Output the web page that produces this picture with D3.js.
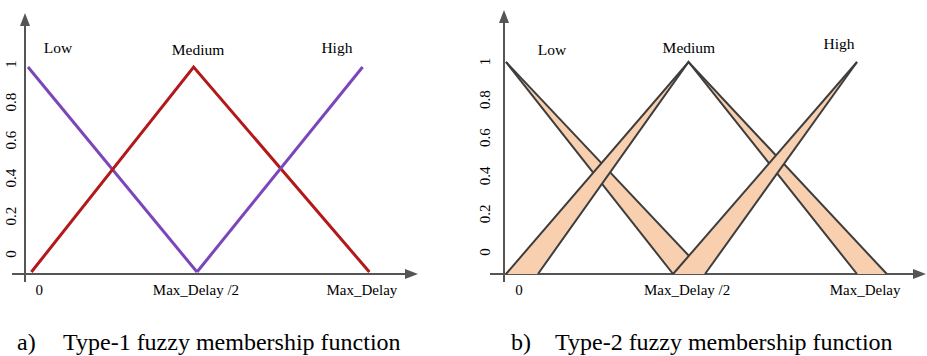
<!DOCTYPE html>
<html>
<head>
<meta charset="utf-8">
<title>Fuzzy membership functions</title>
<script src="https://d3js.org/d3.v7.min.js"></script>
<style>
body { margin: 0; background: #fff; }
svg text { font-family: "Liberation Serif", "Times New Roman", serif; fill: #000; }
</style>
</head>
<body>
<div id="my_dataviz"></div>
<script>
// tick labels and set names
var yTicks = [0, 0.2, 0.4, 0.6, 0.8, 1];
var xTickNames = ["0", "Max_Delay /2", "Max_Delay"];
var setNames = ["Low", "Medium", "High"];
var captions = [["a)", "Type-1 fuzzy membership function"], ["b)", "Type-2 fuzzy membership function"]];

// a) type-1 sets: [x as fraction of Max_Delay, membership]
var low1 = [[0, 1], [0.5, 0]];
var medium1 = [[0.01, 0], [0.49, 1], [1.01, 0]];
var high1 = [[0.5, 0], [0.99, 1]];

// b) type-2 sets: upper and lower membership functions
var lowUpper2 = [[0, 1], [0.57, 0]];
var lowLower2 = [[0, 1], [0.476, 0]];
var mediumUpper2 = [[0, 0], [0.52, 1], [1.085, 0]];
var mediumLower2 = [[0.091, 0], [0.52, 1], [1, 0]];
var highUpper2 = [[0.476, 0], [1, 1]];
var highLower2 = [[0.567, 0], [1, 1]];

// where the words sit, in the same units
var xTickAt1 = [0.033, 0.497, 0.988];
var xTickAt2 = [0.037, 0.516, 1.023];
var setLabelAt1 = [[0.089, 1.093], [0.503, 1.083], [0.914, 1.093]];
var setLabelAt2 = [[0.131, 1.057], [0.521, 1.066], [0.949, 1.085]];

var width = 927, height = 356;

var svg = d3.select("#my_dataviz")
  .append("svg")
    .attr("width", width)
    .attr("height", height);

var axisColor = "#555";

function drawPanel(p) {
  var x = d3.scaleLinear().domain([0, 1]).range(p.xRange);
  var y = d3.scaleLinear().domain([0, 1]).range(p.yRange);
  // the printed tick numbers do not sit exactly on the data scale
  var yLab = d3.scaleLinear().domain([0, 1]).range(p.yLabRange);
  var line = d3.line().x(function(d) { return x(d[0]); }).y(function(d) { return y(d[1]); });

  var g = svg.append("g");

  // axes with arrow heads
  g.append("line")
    .attr("x1", p.ox).attr("y1", p.oy + 8)
    .attr("x2", p.ox).attr("y2", p.yTip + 10)
    .attr("stroke", axisColor).attr("stroke-width", 2);
  g.append("path")
    .attr("d", "M" + p.ox + "," + p.yTip + "L" + (p.ox - 5) + "," + (p.yTip + 13) + "L" + (p.ox + 5) + "," + (p.yTip + 13) + "Z")
    .attr("fill", axisColor);
  g.append("line")
    .attr("x1", p.xStart).attr("y1", p.oy)
    .attr("x2", p.xTip - 10).attr("y2", p.oy)
    .attr("stroke", axisColor).attr("stroke-width", 2);
  g.append("path")
    .attr("d", "M" + p.xTip + "," + p.oy + "L" + (p.xTip - 13) + "," + (p.oy - 5) + "L" + (p.xTip - 13) + "," + (p.oy + 5) + "Z")
    .attr("fill", axisColor);

  // rotated y tick labels
  g.selectAll(".ylab")
    .data(yTicks)
    .enter()
    .append("text")
      .attr("class", "ylab")
      .attr("transform", function(d) { return "translate(" + p.yLabX + "," + yLab(d) + ")rotate(-90)"; })
      .attr("text-anchor", "middle")
      .attr("dy", "0.35em")
      .style("font-size", "15px")
      .text(function(d) { return d; });

  // x tick labels
  g.selectAll(".xlab")
    .data(xTickNames)
    .enter()
    .append("text")
      .attr("class", "xlab")
      .attr("x", function(d, i) { return x(p.xTickAt[i]); })
      .attr("y", p.oy + 16)
      .attr("dy", "0.35em")
      .attr("text-anchor", "middle")
      .style("font-size", "15px")
      .text(function(d) { return d; });

  // set names
  g.selectAll(".setlab")
    .data(setNames)
    .enter()
    .append("text")
      .attr("class", "setlab")
      .attr("x", function(d, i) { return x(p.setLabelAt[i][0]); })
      .attr("y", function(d, i) { return y(p.setLabelAt[i][1]); })
      .attr("dy", "0.35em")
      .attr("text-anchor", "middle")
      .style("font-size", "15.5px")
      .text(function(d) { return d; });

  return {g: g, x: x, y: y, line: line};
}

// a) type-1
var a = drawPanel({
  xRange: [28, 366], yRange: [272, 67], yLabRange: [254, 64],
  ox: 25, oy: 274, yTip: 13, xStart: 12, xTip: 418, yLabX: 11,
  xTickAt: xTickAt1, setLabelAt: setLabelAt1
});
var type1 = [
  {pts: low1, color: "#7a46b9"},
  {pts: medium1, color: "#b2191b"},
  {pts: high1, color: "#7a46b9"}
];
a.g.selectAll(".mf")
  .data(type1)
  .enter()
  .append("path")
    .attr("class", "mf")
    .attr("d", function(d) { return a.line(d.pts); })
    .attr("fill", "none")
    .attr("stroke", function(d) { return d.color; })
    .attr("stroke-width", 3);

// b) type-2, footprint of uncertainty between upper and lower functions
var b = drawPanel({
  xRange: [506, 857], yRange: [274, 62], yLabRange: [252, 61.5],
  ox: 504, oy: 274, yTip: 10, xStart: 490, xTip: 926, yLabX: 485,
  xTickAt: xTickAt2, setLabelAt: setLabelAt2
});
var type2 = [
  {upper: lowUpper2, lower: lowLower2},
  {upper: mediumUpper2, lower: mediumLower2},
  {upper: highUpper2, lower: highLower2}
];
type2.forEach(function(s) {
  var set = b.g.append("g");
  set.append("path")
    .attr("d", b.line(s.upper.concat(s.lower.slice().reverse())) + "Z")
    .attr("fill", "#f8d0b0")
    .attr("stroke", "none");
  set.selectAll("path.edge")
    .data([s.upper, s.lower])
    .enter()
    .append("path")
      .attr("class", "edge")
      .attr("d", function(d) { return b.line(d); })
      .attr("fill", "none")
      .attr("stroke", "#3d3d3d")
      .attr("stroke-width", 2);
});

// captions
var capX = [[17, 63], [511, 555]];
captions.forEach(function(c, i) {
  svg.append("text").attr("x", capX[i][0]).attr("y", 350).style("font-size", "24px").text(c[0]);
  svg.append("text").attr("x", capX[i][1]).attr("y", 350).style("font-size", "24px").text(c[1]);
});
</script>
</body>
</html>
